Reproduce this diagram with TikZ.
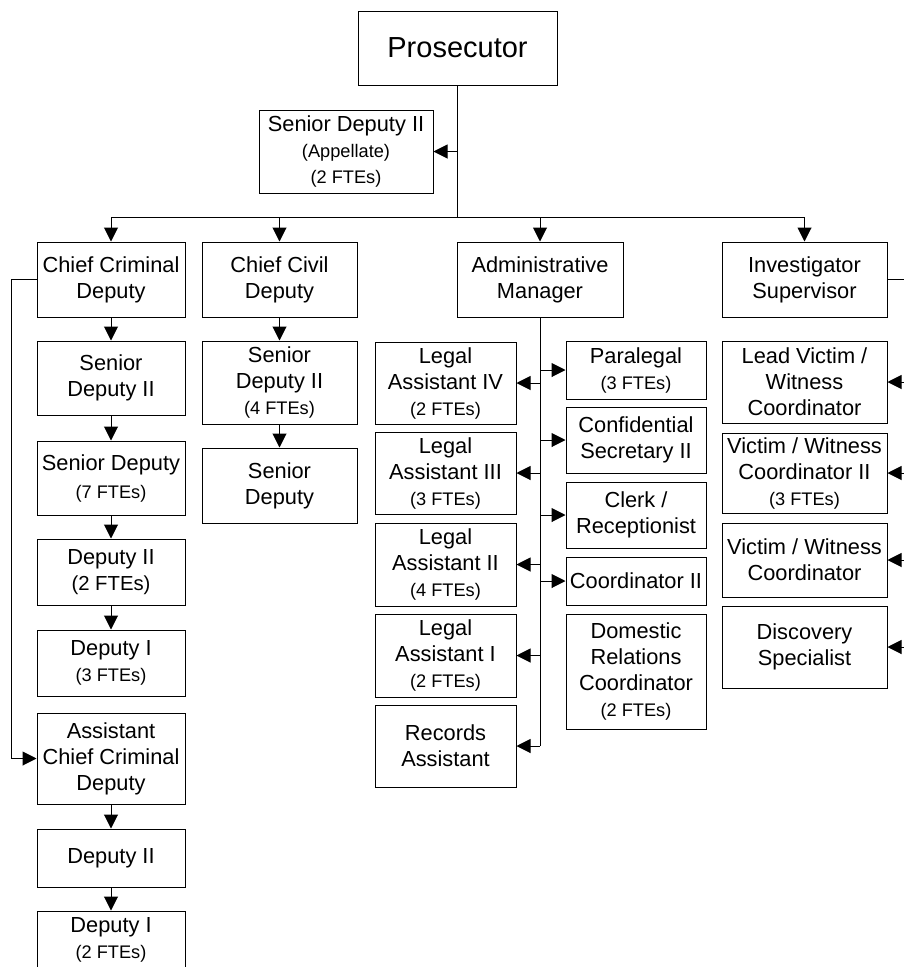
\documentclass[tikz,border=0pt]{standalone}
\usepackage{fontspec}
\setmainfont{Liberation Sans}
\usetikzlibrary{arrows.meta}
\newcommand\regsize{\fontsize{21.8}{26}\selectfont}
\newcommand\fte{\fontsize{18.2}{26}\selectfont}
\newcommand\fteb{\fontsize{20.3}{26}\selectfont}
\newcommand\bigsize{\fontsize{29}{34}\selectfont}
\begin{document}
\begin{tikzpicture}[x=1pt,y=-1pt,line width=1pt,
  box/.style={draw, inner sep=0pt, align=center, font=\regsize},
  colA/.style={box, minimum width=148pt},
  colB/.style={box, minimum width=155pt},
  colC/.style={box, minimum width=141pt},
  colD/.style={box, minimum width=140pt},
  colE/.style={box, minimum width=165pt},
  arr/.style={-{Triangle[length=14pt,width=14pt]}}]
\useasboundingbox (0,0) rectangle (904,967);
\clip (0,0) rectangle (904,967);

% top of the chart
\node[box, minimum width=199pt, minimum height=74pt, font=\bigsize] (pros) at (457.5,48) {Prosecutor};
\node[box, minimum width=174pt, minimum height=83pt] (appel) at (346,151.5) {Senior Deputy II\\{\fte (Appellate)}\\{\fte (2 FTEs)}};

% criminal division
\node[colA, minimum height=75pt] (ccd)  at (111,279.5) {Chief Criminal\\Deputy};
\node[colA, minimum height=74pt] (sd2)  at (111,378)   {Senior\\Deputy II};
\node[colA, minimum height=74pt] (sd7)  at (111,478)   {Senior Deputy\\[2pt]{\fte (7 FTEs)}};
\node[colA, minimum height=66pt] (d2a)  at (111,572)   {Deputy II\\{\fteb (2 FTEs)}};
\node[colA, minimum height=66pt] (d1a)  at (111,663)   {Deputy I\\{\fte (3 FTEs)}};
\node[colA, minimum height=91pt] (acd)  at (111,758.5) {Assistant\\Chief Criminal\\Deputy};
\node[colA, minimum height=58pt] (d2b)  at (111,858)   {Deputy II};
\node[colA, minimum height=58pt] (d1b)  at (111,940)   {Deputy I\\{\fte (2 FTEs)}};

% civil division
\node[colB, minimum height=75pt] (civ)  at (279.5,279.5) {Chief Civil\\Deputy};
\node[colB, minimum height=83pt] (csd2) at (279.5,382.5) {Senior\\Deputy II\\{\fte (4 FTEs)}};
\node[colB, minimum height=75pt] (csd)  at (279.5,485.5) {Senior\\Deputy};

% administration
\node[box, minimum width=166pt, minimum height=75pt] (adm) at (540,279.5) {Administrative\\Manager};
\node[colC, minimum height=82pt] (la4) at (445.5,383)   {Legal\\Assistant IV\\{\fte (2 FTEs)}};
\node[colC, minimum height=82pt] (la3) at (445.5,473)   {Legal\\Assistant III\\{\fte (3 FTEs)}};
\node[colC, minimum height=83pt] (la2) at (445.5,564.5) {Legal\\Assistant II\\{\fte (4 FTEs)}};
\node[colC, minimum height=83pt] (la1) at (445.5,655.5) {Legal\\Assistant I\\{\fte (2 FTEs)}};
\node[colC, minimum height=82pt] (rec) at (445.5,746)   {Records\\Assistant};
\node[colD, minimum height=58pt]  (para)   at (636,370)   {Paralegal\\{\fte (3 FTEs)}};
\node[colD, minimum height=66pt]  (conf)   at (636,440)   {Confidential\\Secretary II};
\node[colD, minimum height=66pt]  (clerk)  at (636,515)   {Clerk /\\Receptionist};
\node[colD, minimum height=48pt]  (coord)  at (636,581)   {Coordinator II};
\node[colD, minimum height=115pt] (dom)    at (636,671.5) {Domestic\\Relations\\Coordinator\\{\fte (2 FTEs)}};

% investigations
\node[colE, minimum height=75pt] (inv)  at (804.5,279.5) {Investigator\\Supervisor};
\node[colE, minimum height=82pt] (lead) at (804.5,382)   {Lead Victim /\\Witness\\Coordinator};
\node[colE, minimum height=80pt] (vw2)  at (804.5,473)   {Victim / Witness\\Coordinator II\\{\fte (3 FTEs)}};
\node[colE, minimum height=74pt] (vw)   at (804.5,560)   {Victim / Witness\\Coordinator};
\node[colE, minimum height=82pt] (disc) at (804.5,647)   {Discovery\\Specialist};

% prosecutor trunk and bus
\draw (pros.south) -- (pros.south |- 0,217) coordinate (bj);
\draw[arr] (pros.south |- appel.east) -- (appel.east);
\draw (ccd.north |- bj) -- (inv.north |- bj);
\foreach \n in {ccd,civ,adm,inv} \draw[arr] (\n.north |- bj) -- (\n.north);

% criminal chain
\draw[arr] (ccd.south) -- (sd2.north);
\draw[arr] (sd2.south) -- (sd7.north);
\draw[arr] (sd7.south) -- (d2a.north);
\draw[arr] (d2a.south) -- (d1a.north);
\draw[arr] (acd.south) -- (d2b.north);
\draw[arr] (d2b.south) -- (d1b.north);
\draw[arr] (ccd.west) -- ++(-25,0) |- (acd.west);

% civil chain
\draw[arr] (civ.south) -- (csd2.north);
\draw[arr] (csd2.south) -- (csd.north);

% administration trunk
\draw (adm.south) -- (adm.south |- rec.east);
\foreach \n in {la4,la3,la2,la1,rec} \draw[arr] (adm.south |- \n.east) -- (\n.east);
\foreach \n in {para,conf,clerk,coord} \draw[arr] (adm.south |- \n.west) -- (\n.west);

% investigations trunk
\draw (inv.east) -- ++(25,0) coordinate (rv) -- (rv |- disc.east);
\foreach \n in {lead,vw2,vw,disc} \draw[arr] (rv |- \n.east) -- (\n.east);
\end{tikzpicture}
\end{document}
